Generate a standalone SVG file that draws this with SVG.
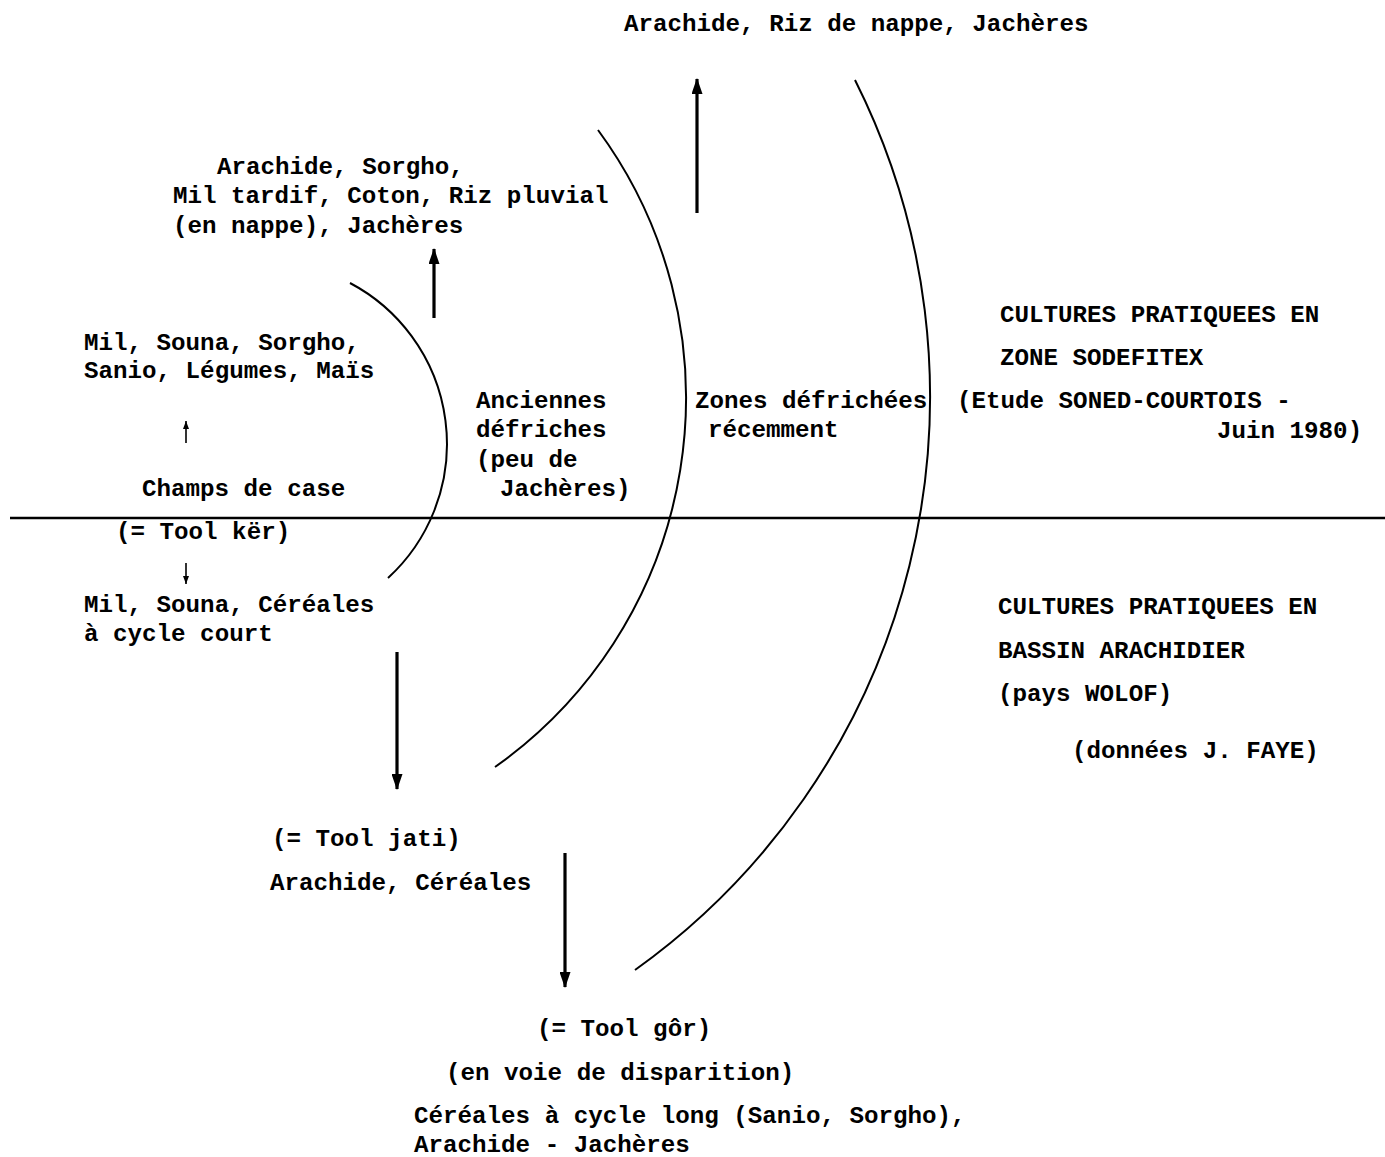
<svg xmlns="http://www.w3.org/2000/svg" width="1385" height="1157" viewBox="0 0 1385 1157">
<defs>
<style>
text{font-family:"Liberation Mono","Courier New",monospace;font-size:24.2px;font-weight:bold;fill:#000}
.arc{fill:none;stroke:#000;stroke-width:2}
.big{stroke:#000;stroke-width:3.2;fill:none}
.small{stroke:#000;stroke-width:1.6;fill:none}
</style>
<marker id="ahBig" viewBox="0 0 16 11" refX="15" refY="5.5" markerWidth="16" markerHeight="11" markerUnits="userSpaceOnUse" orient="auto">
<path d="M0,0 L16,5.5 L0,11 z" fill="#000"/>
</marker>
<marker id="ahSmall" viewBox="0 0 8 6" refX="8" refY="3" markerWidth="8" markerHeight="6" markerUnits="userSpaceOnUse" orient="auto">
<path d="M0,0 L8,3 L0,6 z" fill="#000"/>
</marker>
</defs>
<rect width="1385" height="1157" fill="#fff"/>
<g id="divider">
<line x1="10" y1="518" x2="1385" y2="518" stroke="#000" stroke-width="2.5"/>
</g>
<g id="zones">
<path class="arc" d="M350,283 A182,182 0 0 1 388,578"/>
<path class="arc" d="M598,130 A452,452 0 0 1 495,767"/>
<path class="arc" d="M855,80 A705,705 0 0 1 635,970"/>
</g>
<g id="connectors">
<line class="big" x1="697" y1="213" x2="697" y2="79" marker-end="url(#ahBig)"/>
<line class="big" x1="434" y1="318" x2="434" y2="249" marker-end="url(#ahBig)"/>
<line class="small" x1="186" y1="443" x2="186" y2="421" marker-end="url(#ahSmall)"/>
<line class="small" x1="186" y1="563" x2="186" y2="584" marker-end="url(#ahSmall)"/>
<line class="big" x1="397" y1="652" x2="397" y2="789" marker-end="url(#ahBig)"/>
<line class="big" x1="565" y1="853" x2="565" y2="987" marker-end="url(#ahBig)"/>
</g>
<g id="node-top"><text x="624" y="31">Arachide, Riz de nappe, Jachères</text></g>
<g id="node-sodefitex-2">
<text x="217" y="174">Arachide, Sorgho,</text>
<text x="173" y="203">Mil tardif, Coton, Riz pluvial</text>
<text x="173" y="233">(en nappe), Jachères</text>
</g>
<g id="node-case-up">
<text x="84" y="350">Mil, Souna, Sorgho,</text>
<text x="84" y="378">Sanio, Légumes, Maïs</text>
</g>
<g id="node-champs">
<text x="142" y="496">Champs de case</text>
<text x="116" y="539">(= Tool kër)</text>
</g>
<g id="node-case-down">
<text x="84" y="612">Mil, Souna, Céréales</text>
<text x="84" y="641">à cycle court</text>
</g>
<g id="node-anciennes">
<text x="476" y="408">Anciennes</text>
<text x="476" y="437">défriches</text>
<text x="476" y="467">(peu de</text>
<text x="500" y="496">Jachères)</text>
</g>
<g id="node-recentes">
<text x="695" y="408">Zones défrichées</text>
<text x="708" y="437">récemment</text>
</g>
<g id="legend-sodefitex">
<text x="1000" y="322">CULTURES PRATIQUEES EN</text>
<text x="1000" y="365">ZONE SODEFITEX</text>
<text x="957" y="408">(Etude SONED-COURTOIS -</text>
<text x="1217" y="438">Juin 1980)</text>
</g>
<g id="legend-bassin">
<text x="998" y="614">CULTURES PRATIQUEES EN</text>
<text x="998" y="658">BASSIN ARACHIDIER</text>
<text x="998" y="701">(pays WOLOF)</text>
<text x="1072" y="758">(données J. FAYE)</text>
</g>
<g id="node-jati">
<text x="272" y="846">(= Tool jati)</text>
<text x="270" y="890">Arachide, Céréales</text>
</g>
<g id="node-gor">
<text x="537" y="1036">(= Tool gôr)</text>
<text x="446" y="1080">(en voie de disparition)</text>
<text x="414" y="1123">Céréales à cycle long (Sanio, Sorgho),</text>
<text x="414" y="1152">Arachide - Jachères</text>
</g>
</svg>
